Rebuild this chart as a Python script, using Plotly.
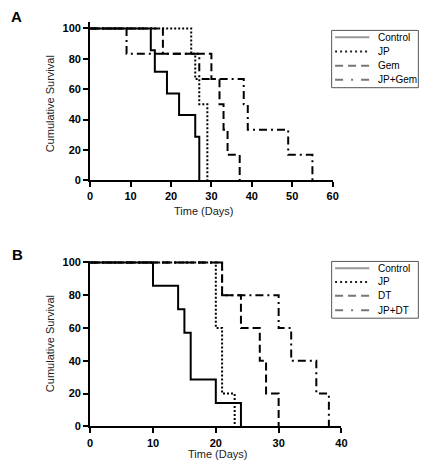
import plotly.graph_objects as go

W, H = 441, 472

# ---------------- Panel A data ----------------
A_control_t = [15, 16, 19, 22, 26, 27]
A_control_s = [85.7, 71.4, 57.1, 42.9, 28.6, 0]
A_jp_t = [25, 26, 27, 29]
A_jp_s = [83.3, 66.7, 50.0, 0]
A_gem_t = [18, 30, 32, 33, 34, 37]
A_gem_s = [83.3, 66.7, 50.0, 33.3, 16.7, 0]
A_jpgem_t = [9, 27, 38, 39, 49, 55]
A_jpgem_s = [83.3, 66.7, 50.0, 33.3, 16.7, 0]
A_legend = ["Control", "JP", "Gem", "JP+Gem"]

# ---------------- Panel B data ----------------
B_control_t = [10, 14, 15, 16, 20, 24]
B_control_s = [85.7, 71.4, 57.1, 28.6, 14.3, 0]
B_jp_t = [20, 21, 23]
B_jp_s = [60, 20, 0]
B_dt_t = [21, 24, 27, 28, 30]
B_dt_s = [80, 60, 40, 20, 0]
B_jpdt_t = [21, 30, 32, 36, 38]
B_jpdt_s = [80, 60, 40, 20, 0]
B_legend = ["Control", "JP", "DT", "JP+DT"]

x_ticks_A = [0, 10, 20, 30, 40, 50, 60]
x_ticks_B = [0, 10, 20, 30, 40]
y_ticks = [0, 20, 40, 60, 80, 100]

FONT = "Arial, Liberation Sans, sans-serif"
DASHES = ["solid", "2px,2px", "8px,4px", "8px,4px,2px,4px"]


def px(x):
    return x / W


def py(y):
    return 1 - y / H


def step(t, s):
    return [0] + list(t), [100] + list(s)


fig = go.Figure()

groups = [
    ("x", "y", [(A_jp_t, A_jp_s, 1), (A_gem_t, A_gem_s, 2), (A_jpgem_t, A_jpgem_s, 3), (A_control_t, A_control_s, 0)]),
    ("x2", "y2", [(B_jp_t, B_jp_s, 1), (B_dt_t, B_dt_s, 2), (B_jpdt_t, B_jpdt_s, 3), (B_control_t, B_control_s, 0)]),
]
for xa, ya, series in groups:
    for t, s, k in series:
        xs, ys = step(t, s)
        fig.add_trace(go.Scatter(x=xs, y=ys, mode="lines", xaxis=xa, yaxis=ya,
                                 line=dict(shape="hv", color="black", width=2, dash=DASHES[k]),
                                 showlegend=False, hoverinfo="skip"))

axis_common = dict(showline=True, linecolor="black", linewidth=2, ticks="outside",
                   ticklen=5, tickwidth=2, tickcolor="black", showgrid=False, zeroline=False,
                   tickfont=dict(family=FONT, size=11, color="black", weight="bold"))

fig.update_layout(
    width=W, height=H, margin=dict(l=0, r=0, t=0, b=0),
    paper_bgcolor="white", plot_bgcolor="white", showlegend=False,
    xaxis=dict(domain=[px(89), px(336.5)], range=[0, 60], tickvals=x_ticks_A, anchor="y", **axis_common),
    yaxis=dict(domain=[py(180), py(180 - 155 * 1.04)], range=[0, 104], tickvals=y_ticks, anchor="x", **axis_common),
    xaxis2=dict(domain=[px(89), px(345.5)], range=[0, 40], tickvals=x_ticks_B, anchor="y2", **axis_common),
    yaxis2=dict(domain=[py(431.5), py(431.5 - 167.5 * 1.01)], range=[0, 101], tickvals=y_ticks, anchor="x2", **axis_common),
)

ann = []
shapes = []


def text_at(text, x, y, size, color="black", angle=0, xanchor="center"):
    ann.append(dict(text=text, x=px(x), y=py(y), xref="paper", yref="paper", showarrow=False,
                    xanchor=xanchor, yanchor="middle", textangle=angle,
                    font=dict(family=FONT, size=size, color=color)))


# panel labels
text_at("<b>A</b>", 14, 13, 15)
text_at("<b>B</b>", 15, 256, 15)

# axis titles
for (yc, xc_t, yt) in [(102.5, 205, 211), (347.5, 219, 460)]:
    text_at("Cumulative Survival", 48, yc, 11, "#222", angle=-90)
    text_at("Time (Days)", xc_t, yt, 11, "#222")

# legends (drawn as a box with sample lines and labels)
LEG_COLORS = ["#999999", "#222222", "#777777", "#777777"]
LEG_DASH = ["solid", "2px,3px", "8px,5px", "8px,8px,2px,8px"]
for labels, box, rows in [
    (A_legend, (335.5, 27, 424, 85.5), [34, 48.5, 63, 77.5]),
    (B_legend, (335.5, 263, 424, 321), [270, 284, 298, 313]),
]:
    x0, y0, x1, y1 = box
    shapes.append(dict(type="rect", xref="paper", yref="paper", x0=px(x0), x1=px(x1), y0=py(y0), y1=py(y1),
                       line=dict(color="#555555", width=1), fillcolor="white"))
    for i, (lab, yy) in enumerate(zip(labels, rows)):
        shapes.append(dict(type="line", xref="paper", yref="paper", x0=px(339), x1=px(374), y0=py(yy), y1=py(yy),
                           line=dict(color=LEG_COLORS[i], width=2, dash=LEG_DASH[i])))
        text_at(lab, 381, yy, 10, xanchor="left")

fig.update_layout(annotations=ann, shapes=shapes)
fig.write_html("out.html", config={"displayModeBar": False},
               post_script="document.body.style.margin='0';document.body.style.overflow='hidden';")
